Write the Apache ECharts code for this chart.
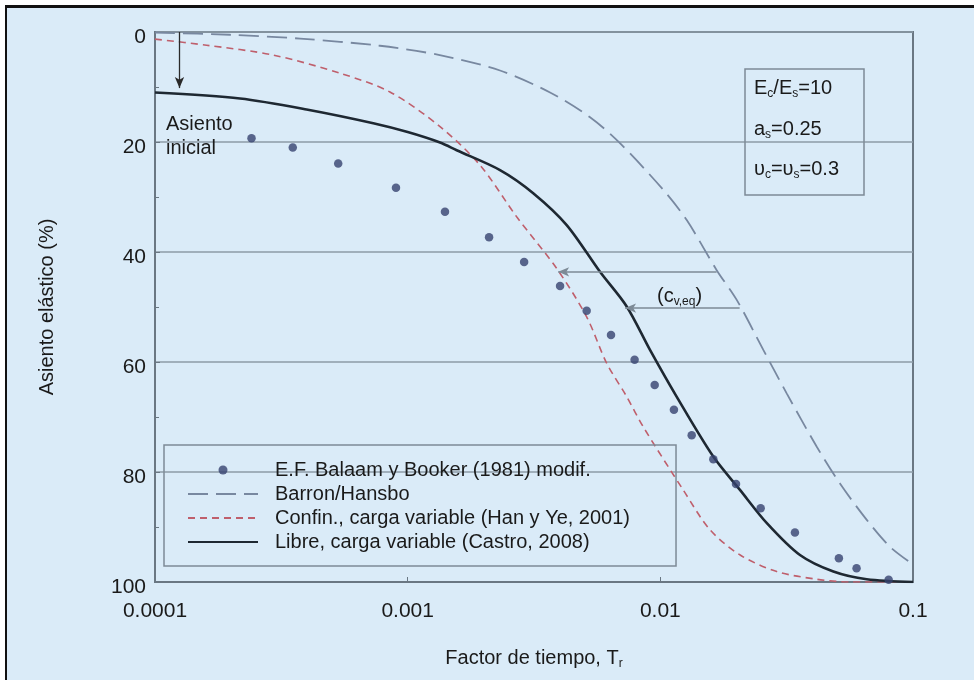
<!DOCTYPE html>
<html><head><meta charset="utf-8">
<script src="https://cdn.jsdelivr.net/npm/echarts@6/dist/echarts.min.js"></script>
<style>
html,body{margin:0;padding:0;background:#fff;}
#frame{position:absolute;left:5px;top:5px;width:969px;height:675px;border-top:3px solid #111;border-left:2px solid #111;background:#daebf8;box-sizing:border-box;}
#chart{position:absolute;left:0;top:0;width:974px;height:680px;}
</style></head><body>
<div id="frame"></div><div id="chart"></div>
<script>
// ---- data ----
const xTickLabels = ['0.0001', '0.001', '0.01', '0.1'];
const seriesNames = ['E.F. Balaam y Booker (1981) modif.', 'Barron/Hansbo', 'Confin., carga variable (Han y Ye, 2001)', 'Libre, carga variable (Castro, 2008)'];

const balaamT = [2.41e-4, 3.51e-4, 5.31e-4, 8.99e-4, 1.405e-3, 2.10e-3, 2.89e-3, 4.01e-3, 5.11e-3, 6.38e-3, 7.91e-3, 9.50e-3, 0.01132, 0.01331, 0.01621, 0.01993, 0.02495, 0.0341, 0.0509, 0.0598, 0.0801];
const balaamU = [19.3, 21.0, 23.9, 28.3, 32.7, 37.3, 41.8, 46.2, 50.7, 55.1, 59.6, 64.2, 68.7, 73.3, 77.7, 82.2, 86.6, 91.0, 95.7, 97.5, 99.6];

const barronT = [1e-4, 1.98e-4, 3.75e-4, 7.77e-4, 1.34e-3, 2.32e-3, 3.66e-3, 5.27e-3, 6.92e-3, 0.01027, 0.01272, 0.01671, 0.02006, 0.02556, 0.03163, 0.0416, 0.0514, 0.0656, 0.0811, 0.1];
const barronU = [0.1, 0.5, 1.2, 2.5, 4.2, 7.0, 11.0, 15.5, 20.2, 28.7, 34.2, 43.3, 48.7, 57.8, 65.7, 75.4, 82.1, 88.7, 93.6, 96.8];

const confinT = [1e-4, 1.60e-4, 2.94e-4, 5.40e-4, 8.51e-4, 1.343e-3, 1.933e-3, 2.70e-3, 3.89e-3, 5.11e-3, 6.13e-3, 7.36e-3, 8.56e-3, 0.01233, 0.01572, 0.0207, 0.0289, 0.0416, 0.0563, 0.1];
const confinU = [1.3, 2.4, 4.2, 7.5, 10.9, 17.2, 24.2, 33.6, 43.0, 51.8, 60.2, 66.3, 71.8, 83.3, 90.5, 95.1, 98.1, 99.5, 100, 100];

const libreT = [1e-4, 2.17e-4, 3.98e-4, 7.31e-4, 1.0e-3, 1.343e-3, 1.563e-3, 2.32e-3, 3.14e-3, 4.26e-3, 5.77e-3, 7.36e-3, 9.10e-3, 0.0116, 0.0162, 0.0207, 0.0264, 0.0357, 0.0484, 0.0656, 0.1];
const libreU = [11.0, 12.1, 14.1, 16.6, 18.2, 20.1, 21.5, 25.1, 29.3, 35.1, 43.6, 49.9, 57.8, 66.3, 77.2, 83.3, 89.3, 95.1, 98.1, 99.5, 100];

// annotation arrows (data coordinates)
const initialArrow = [[1.25e-4, 0], [1.25e-4, 10.2]];
const cvArrowUpper = [[0.0167, 43.6], [3.94e-3, 43.6]];
const cvArrowLower = [[0.0206, 50.2], [7.25e-3, 50.2]];

// ---- chart ----
const FONT = 'Liberation Sans';
const TXT = '#1a1a1a';
const AX = '#6a7783';
const zip = (a, b) => a.map((v, i) => [v, b[i]]);
const subRich = {
  n: {fontSize: 20, fontFamily: FONT, fill: TXT, color: TXT},
  s: {fontSize: 12, fontFamily: FONT, fill: TXT, color: TXT, padding: [11, 0, 0, 0]}
};

const chart = echarts.init(document.getElementById('chart'), null, {renderer: 'canvas'});
const option = {
  backgroundColor: 'transparent',
  animation: false,
  textStyle: {fontFamily: FONT},
  grid: {left: 155, top: 32, right: 61, bottom: 98, show: true, borderColor: AX, borderWidth: 2, backgroundColor: 'transparent'},
  xAxis: {
    type: 'log', logBase: 10, min: 1e-4, max: 0.1,
    name: '{n|Factor de tiempo, T}{s|r}', nameLocation: 'middle', nameGap: 65,
    nameTextStyle: {rich: subRich},
    axisLine: {show: true, onZero: false, lineStyle: {color: AX, width: 2}},
    axisTick: {show: true, inside: true, length: 5, lineStyle: {color: AX}},
    axisLabel: {fontSize: 21, color: TXT, margin: 19, fontFamily: FONT,
      formatter: v => xTickLabels[Math.round(Math.log10(v)) + 4]},
    splitLine: {show: false}
  },
  yAxis: {
    type: 'value', inverse: true, min: 0, max: 100, interval: 20,
    name: 'Asiento elástico (%)', nameLocation: 'middle', nameGap: 98,
    nameTextStyle: {fontSize: 20, color: TXT, fontFamily: FONT},
    axisLine: {show: true, lineStyle: {color: AX, width: 2}},
    axisTick: {show: true, inside: true, length: 5, lineStyle: {color: AX}},
    minorTick: {show: true, splitNumber: 2, length: 4, lineStyle: {color: AX}},
    axisLabel: {fontSize: 21, color: TXT, margin: 9, fontFamily: FONT, verticalAlign: 'top', lineHeight: 10},
    splitLine: {show: true, lineStyle: {color: '#8d9ba7', width: 1.5}}
  },
  legend: {
    orient: 'vertical', left: 164, top: 445,
    padding: [15, 46, 14, 23], itemWidth: 70, itemHeight: 9, itemGap: 4,
    borderColor: '#7d8a96', borderWidth: 1.5, backgroundColor: 'transparent',
    textStyle: {fontSize: 20, color: TXT, lineHeight: 20, fontFamily: FONT, padding: [0, 0, 0, 12]},
    data: [
      {name: seriesNames[0]},
      {name: seriesNames[1], itemStyle: {opacity: 0}},
      {name: seriesNames[2], itemStyle: {opacity: 0}},
      {name: seriesNames[3], itemStyle: {opacity: 0}}
    ]
  },
  series: [
    {name: seriesNames[0], type: 'scatter', data: zip(balaamT, balaamU), symbolSize: 8.5,
     itemStyle: {color: '#36426f'}, z: 5},
    {name: seriesNames[1], type: 'line', data: zip(barronT, barronU), symbol: 'none', showSymbol: false, smooth: 0.3,
     lineStyle: {color: '#7888a0', width: 1.8, type: [20, 8]}},
    {name: seriesNames[2], type: 'line', data: zip(confinT, confinU), symbol: 'none', showSymbol: false, smooth: 0.3,
     lineStyle: {color: '#bf5f6c', width: 1.6, type: [7, 5]}},
    {name: seriesNames[3], type: 'line', data: zip(libreT, libreU), symbol: 'none', showSymbol: false, smooth: 0.3,
     lineStyle: {color: '#1e2832', width: 2.6}},
    {name: 'annotations', type: 'line', data: [], symbol: 'none',
     markLine: {
       silent: true, symbol: ['none', 'arrow'], symbolSize: [7, 11], label: {show: false},
       lineStyle: {color: '#7d8a96', width: 1.5, type: 'solid'},
       data: [
         [{coord: initialArrow[0], lineStyle: {color: '#2a2a2a', width: 1.3}, itemStyle: {color: '#2a2a2a'}}, {coord: initialArrow[1]}],
         [{coord: cvArrowUpper[0], itemStyle: {color: '#222'}}, {coord: cvArrowUpper[1]}],
         [{coord: cvArrowLower[0], itemStyle: {color: '#222'}}, {coord: cvArrowLower[1]}]
       ]
     }}
  ],
  graphic: [
    {type: 'text', left: 166, top: 112, z: 10,
     style: {text: 'Asiento\ninicial', fontSize: 20, fontFamily: FONT, fill: TXT, lineHeight: 24}},
    {type: 'text', left: 657, top: 286, z: 10,
     style: {text: '{n|(c}{s|v,eq}{n|)}', fill: TXT, rich: subRich}},
    {type: 'rect', z: 10, shape: {x: 745, y: 69, width: 119, height: 126},
     style: {fill: 'rgba(0,0,0,0)', stroke: '#7d8a96', lineWidth: 1.5}},
    {type: 'text', left: 754, top: 78, z: 10,
     style: {text: '{n|E}{s|c}{n|/E}{s|s}{n|=10}', fill: TXT, rich: subRich}},
    {type: 'text', left: 754, top: 119, z: 10,
     style: {text: '{n|a}{s|s}{n|=0.25}', fill: TXT, rich: subRich}},
    {type: 'text', left: 754, top: 159, z: 10,
     style: {text: '{n|υ}{s|c}{n|=υ}{s|s}{n|=0.3}', fill: TXT, rich: subRich}}
  ]
};
chart.setOption(option);
</script>
</body></html>
